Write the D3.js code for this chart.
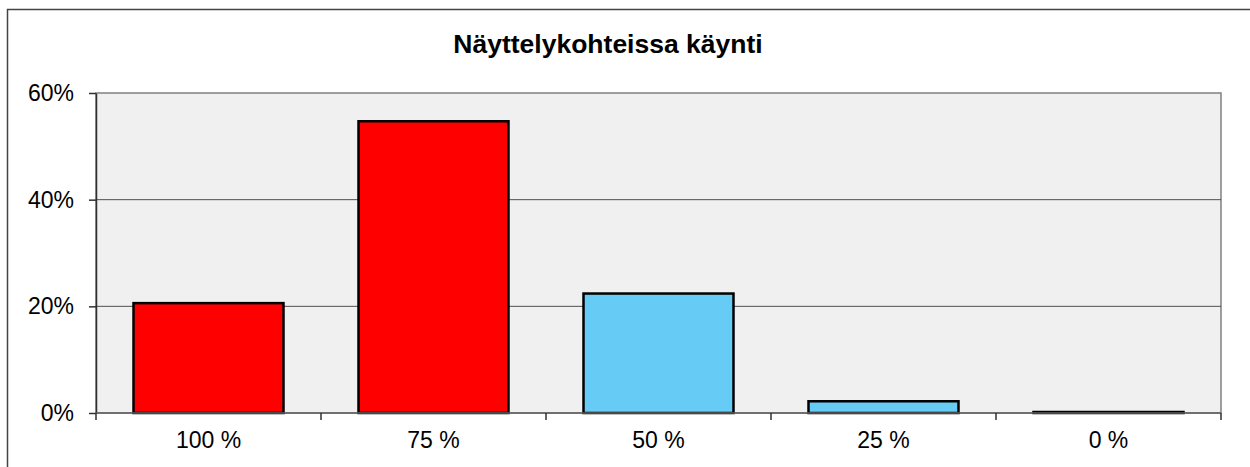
<!DOCTYPE html>
<html>
<head>
<meta charset="utf-8">
<script src="https://cdn.jsdelivr.net/npm/d3@7"></script>
<style>
  body { margin: 0; background: #fff; }
  svg { display: block; font-family: "Liberation Sans", Arial, sans-serif; }
</style>
</head>
<body>
<svg id="drawing_region"></svg>
<script>
// data
const categories = ["100 %", "75 %", "50 %", "25 %", "0 %"];
const shares = [0.206, 0.547, 0.224, 0.022, 0.0];
const barColors = ["#ff0000", "#ff0000", "#66ccf5", "#66ccf5", "#66ccf5"];
const yTicks = [0, 0.2, 0.4, 0.6];
const title = "Näyttelykohteissa käynti";

const config = {
    width: 1250,
    height: 467,
    margin: {top: 93, right: 29, bottom: 54, left: 96}
};

const svg = d3.select('#drawing_region')
    .attr('width', config.width)
    .attr('height', config.height);

// outer chart border (only top and left show in the window)
svg.append('rect')
    .attr('x', 7.5).attr('y', 9.5)
    .attr('width', 1400).attr('height', 600)
    .attr('fill', 'none')
    .attr('stroke', '#444')
    .attr('stroke-width', 1.5);

svg.append('text')
    .attr('x', 608)
    .attr('y', 53)
    .attr('text-anchor', 'middle')
    .attr('font-size', '26.5px')
    .attr('font-weight', 'bold')
    .text(title);

const inner_width = config.width - config.margin.left - config.margin.right;
const inner_height = config.height - config.margin.top - config.margin.bottom;

const chart = svg.append('g')
    .attr('transform', `translate(${config.margin.left}, ${config.margin.top})`);

const xscale = d3.scaleBand()
    .domain(categories)
    .range([0, inner_width])
    .paddingInner(1/3)
    .paddingOuter(1/6);

const yscale = d3.scaleLinear()
    .domain([0, 0.6])
    .range([inner_height, 0]);

// plot area
chart.append('rect')
    .attr('width', inner_width)
    .attr('height', inner_height)
    .attr('fill', '#f0f0f0')
    .attr('stroke', '#808080')
    .attr('stroke-width', 1.5);

// gridlines
chart.selectAll('.grid')
    .data(yTicks.filter(d => d > 0 && d < 0.6))
    .enter()
    .append('line')
    .attr('x1', 0).attr('x2', inner_width)
    .attr('y1', d => yscale(d)).attr('y2', d => yscale(d))
    .attr('stroke', '#505050')
    .attr('stroke-width', 1);

// bars (a zero bar still shows as its outline, so give it 1px)
chart.selectAll('.bar')
    .data(shares)
    .enter()
    .append('rect')
    .attr('x', (d, i) => xscale(categories[i]))
    .attr('y', d => Math.min(yscale(d), inner_height - 1))
    .attr('width', xscale.bandwidth())
    .attr('height', d => Math.max(inner_height - yscale(d), 1))
    .attr('fill', (d, i) => barColors[i])
    .attr('stroke', '#000')
    .attr('stroke-width', 2.5);

// y axis
const yaxis = d3.axisLeft(yscale)
    .tickValues(yTicks)
    .tickFormat(d3.format('.0%'))
    .tickSizeInner(7)
    .tickSizeOuter(0)
    .tickPadding(15);

const ygroup = chart.append('g').call(yaxis);
ygroup.select('.domain').attr('stroke', '#303030').attr('stroke-width', 1.5);
ygroup.selectAll('.tick line').attr('stroke', '#303030').attr('stroke-width', 1.5);
ygroup.selectAll('.tick text')
    .attr('font-size', '23px')
    .attr('font-family', '"Liberation Sans", Arial, sans-serif')
    .attr('fill', '#000');

// x axis: ticks sit on category boundaries
const boundaries = d3.range(categories.length + 1).map(i => i * inner_width / categories.length);
const xgroup = chart.append('g')
    .attr('transform', `translate(0, ${inner_height})`);

xgroup.append('line')
    .attr('x1', 0).attr('x2', inner_width)
    .attr('stroke', '#606060').attr('stroke-width', 1.5);

xgroup.selectAll('.xtick')
    .data(boundaries)
    .enter()
    .append('line')
    .attr('x1', d => d).attr('x2', d => d)
    .attr('y1', 0).attr('y2', 7)
    .attr('stroke', '#303030')
    .attr('stroke-width', 1.5);

xgroup.selectAll('.xlabel')
    .data(categories)
    .enter()
    .append('text')
    .attr('x', d => xscale(d) + xscale.bandwidth() / 2)
    .attr('y', 35)
    .attr('text-anchor', 'middle')
    .attr('font-size', '23px')
    .text(d => d);
</script>
</body>
</html>
